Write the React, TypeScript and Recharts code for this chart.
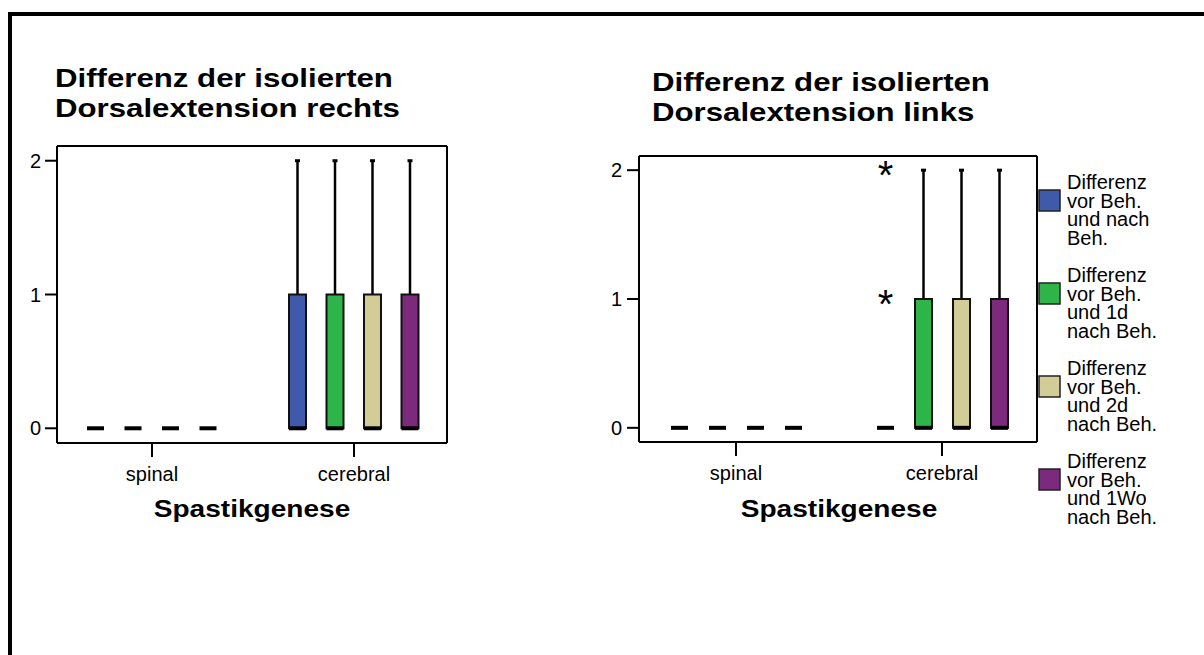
import { ComposedChart, Bar, XAxis, YAxis, CartesianGrid } from "recharts";

const FONT = '"Liberation Sans", Arial, Helvetica, sans-serif';

const CATEGORIES = ["spinal", "cerebral"];
const SERIES = [
  "Differenz vor Beh. und nach Beh.",
  "Differenz vor Beh. und 1d nach Beh.",
  "Differenz vor Beh. und 2d nach Beh.",
  "Differenz vor Beh. und 1Wo nach Beh.",
];
const LEGEND_LINES = [
  ["Differenz", "vor Beh.", "und nach", "Beh."],
  ["Differenz", "vor Beh.", "und 1d", "nach Beh."],
  ["Differenz", "vor Beh.", "und 2d", "nach Beh."],
  ["Differenz", "vor Beh.", "und 1Wo", "nach Beh."],
];
const COLORS = ["#3f5aaa", "#2eb54a", "#d2cd96", "#7b2a7c"];

const Y_TICKS = [0, 1, 2];
const Y_DOMAIN = [-0.11, 2.11];

// Dorsalextension rechts: [series][category]
const RECHTS_MIN = [[0, 0], [0, 0], [0, 0], [0, 0]];
const RECHTS_Q1 = [[0, 0], [0, 0], [0, 0], [0, 0]];
const RECHTS_MEDIAN = [[0, 0], [0, 0], [0, 0], [0, 0]];
const RECHTS_Q3 = [[0, 1], [0, 1], [0, 1], [0, 1]];
const RECHTS_MAX = [[0, 2], [0, 2], [0, 2], [0, 2]];
const RECHTS_OUTLIERS = [[[], []], [[], []], [[], []], [[], []]];

// Dorsalextension links
const LINKS_MIN = [[0, 0], [0, 0], [0, 0], [0, 0]];
const LINKS_Q1 = [[0, 0], [0, 0], [0, 0], [0, 0]];
const LINKS_MEDIAN = [[0, 0], [0, 0], [0, 0], [0, 0]];
const LINKS_Q3 = [[0, 0], [0, 1], [0, 1], [0, 1]];
const LINKS_MAX = [[0, 0], [0, 2], [0, 2], [0, 2]];
const LINKS_OUTLIERS = [[[], [1, 2]], [[], []], [[], []], [[], []]];

type Stat = { min: number; q1: number; med: number; q3: number; max: number; out: number[] };

function buildRows(
  min: number[][],
  q1: number[][],
  med: number[][],
  q3: number[][],
  max: number[][],
  out: number[][][]
) {
  return CATEGORIES.map((category, c) => ({
    category,
    stats: SERIES.map((_, s) => ({
      min: min[s][c],
      q1: q1[s][c],
      med: med[s][c],
      q3: q3[s][c],
      max: max[s][c],
      out: out[s][c],
    })),
  }));
}

const rechtsData = buildRows(RECHTS_MIN, RECHTS_Q1, RECHTS_MEDIAN, RECHTS_Q3, RECHTS_MAX, RECHTS_OUTLIERS);
const linksData = buildRows(LINKS_MIN, LINKS_Q1, LINKS_MEDIAN, LINKS_Q3, LINKS_MAX, LINKS_OUTLIERS);

function extent(st: Stat): [number, number] {
  return [Math.min(st.min, ...st.out), Math.max(st.max, ...st.out)];
}

function BoxShape(props: any) {
  const { x, y, width, height, payload, idx, color } = props;
  const st: Stat = payload.stats[idx];
  const [lo, hi] = extent(st);
  const top = Math.min(y, y + height);
  const bottom = Math.max(y, y + height);
  const py = (v: number) => (hi === lo ? top : bottom - ((v - lo) / (hi - lo)) * (bottom - top));
  const cx = x + width / 2;
  return (
    <g>
      {st.max > st.q3 && (
        <>
          <line x1={cx} x2={cx} y1={py(st.q3)} y2={py(st.max)} stroke="#000" strokeWidth={2.5} />
          <line x1={cx - 2.5} x2={cx + 2.5} y1={py(st.max)} y2={py(st.max)} stroke="#000" strokeWidth={3} />
        </>
      )}
      {st.min < st.q1 && (
        <>
          <line x1={cx} x2={cx} y1={py(st.q1)} y2={py(st.min)} stroke="#000" strokeWidth={2.5} />
          <line x1={cx - 2.5} x2={cx + 2.5} y1={py(st.min)} y2={py(st.min)} stroke="#000" strokeWidth={3} />
        </>
      )}
      {st.q3 > st.q1 && (
        <rect
          x={x}
          y={py(st.q3)}
          width={width}
          height={py(st.q1) - py(st.q3)}
          fill={color}
          stroke="#111"
          strokeWidth={2}
        />
      )}
      <line x1={x} x2={x + width} y1={py(st.med)} y2={py(st.med)} stroke="#000" strokeWidth={4} />
      {st.out.map((o, i) => (
        <text
          key={i}
          x={cx}
          y={py(o) + 19}
          textAnchor="middle"
          fontSize={40}
          fontFamily={FONT}
          fill="#000"
        >
          *
        </text>
      ))}
    </g>
  );
}

type PanelProps = {
  data: ReturnType<typeof buildRows>;
  width: number;
  margin: { top: number; right: number; bottom: number; left: number };
  barGap: number;
  padding: { left: number; right: number };
  tickMargin: number;
};

function Panel({ data, width, margin, barGap, padding, tickMargin }: PanelProps) {
  const tickStyle = { fill: "#000", fontSize: 20, fontFamily: FONT };
  return (
    <ComposedChart width={width} height={655} data={data} margin={margin} barSize={17} barGap={barGap}>
      <CartesianGrid
        stroke="#000"
        strokeWidth={2}
        horizontalCoordinatesGenerator={({ offset }: any) => [offset.top, offset.top + offset.height]}
        verticalCoordinatesGenerator={({ offset }: any) => [offset.left + offset.width]}
      />
      <XAxis
        dataKey="category"
        padding={padding}
        tick={tickStyle}
        tickSize={14}
        tickMargin={10}
        height={60}
        axisLine={{ stroke: "#000", strokeWidth: 2 }}
        tickLine={{ stroke: "#000", strokeWidth: 2 }}
      />
      <YAxis
        type="number"
        domain={Y_DOMAIN}
        ticks={Y_TICKS}
        width={45}
        tick={tickStyle}
        tickSize={12}
        tickMargin={tickMargin}
        axisLine={{ stroke: "#000", strokeWidth: 2 }}
        tickLine={{ stroke: "#000", strokeWidth: 2 }}
      />
      {SERIES.map((name, s) => (
        <Bar
          key={name}
          name={name}
          dataKey={(row: any) => extent(row.stats[s])}
          fill={COLORS[s]}
          isAnimationActive={false}
          shape={(p: any) => <BoxShape {...p} idx={s} color={COLORS[s]} />}
        />
      ))}
    </ComposedChart>
  );
}

function StretchedText({ x, y, text, size, scale, anchor = "start" }: any) {
  return (
    <g transform={`translate(${x},${y}) scale(${scale},1)`}>
      <text x={0} y={0} fontSize={size} fontWeight="bold" fontFamily={FONT} fill="#000" textAnchor={anchor}>
        {text}
      </text>
    </g>
  );
}

export default function App() {
  return (
    <div
      style={{
        position: "absolute",
        left: 0,
        top: 0,
        width: 1204,
        height: 655,
        background: "#fff",
        overflow: "hidden",
      }}
    >
      <div
        style={{
          position: "absolute",
          left: 8,
          top: 12,
          width: 1200,
          height: 650,
          borderTop: "4px solid #000",
          borderLeft: "4px solid #000",
        }}
      />
      <div style={{ position: "absolute", left: 0, top: 0 }}>
        <Panel
          data={rechtsData}
          width={600}
          margin={{ top: 146, right: 153, bottom: 152, left: 12 }}
          barGap={20.5}
          padding={{ left: -6, right: -8 }}
          tickMargin={4}
        />
      </div>
      <div style={{ position: "absolute", left: 580, top: 0 }}>
        <Panel
          data={linksData}
          width={624}
          margin={{ top: 156, right: 167, bottom: 153, left: 14 }}
          barGap={21}
          padding={{ left: -6, right: -8 }}
          tickMargin={5}
        />
      </div>
      <svg
        width={1204}
        height={655}
        style={{ position: "absolute", left: 0, top: 0, pointerEvents: "none" }}
      >
        <StretchedText x={55} y={87} text="Differenz der isolierten" size={26} scale={1.2} />
        <StretchedText x={55} y={117} text="Dorsalextension rechts" size={26} scale={1.2} />
        <StretchedText x={652} y={91} text="Differenz der isolierten" size={26} scale={1.2} />
        <StretchedText x={652} y={121} text="Dorsalextension links" size={26} scale={1.2} />
        <StretchedText x={252} y={517} text="Spastikgenese" size={24} scale={1.17} anchor="middle" />
        <StretchedText x={839} y={517} text="Spastikgenese" size={24} scale={1.17} anchor="middle" />
        {LEGEND_LINES.map((lines, s) => (
          <g key={s}>
            <rect
              x={1039}
              y={190 + s * 93}
              width={21}
              height={21}
              fill={COLORS[s]}
              stroke="#222"
              strokeWidth={1.5}
            />
            <text x={1067} y={189 + s * 93} fontSize={20} fontFamily={FONT} fill="#000">
              {lines.map((line, i) => (
                <tspan key={i} x={1067} dy={i === 0 ? 0 : 18.7}>
                  {line}
                </tspan>
              ))}
            </text>
          </g>
        ))}
      </svg>
    </div>
  );
}
